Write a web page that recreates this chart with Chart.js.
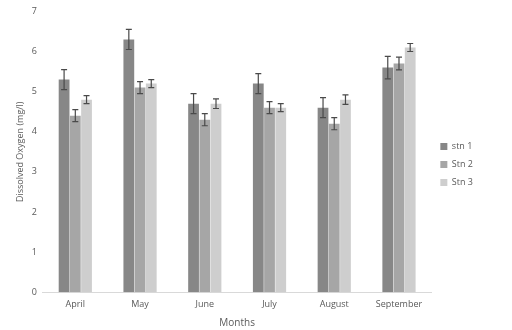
<!DOCTYPE html>
<html>
<head>
<meta charset="utf-8">
<script src="https://cdn.jsdelivr.net/npm/chart.js@4/dist/chart.umd.min.js"></script>
<style>
  html, body { margin: 0; padding: 0; background: #fff; }
  #wrap { width: 512px; height: 330px; }
</style>
</head>
<body>
<div id="wrap"><canvas id="myChart"></canvas></div>
<script>
var months = ["April", "May", "June", "July", "August", "September"];
var stn1 = [5.3, 6.3, 4.7, 5.2, 4.6, 5.6];
var stn2 = [4.4, 5.1, 4.3, 4.6, 4.2, 5.7];
var stn3 = [4.8, 5.2, 4.7, 4.6, 4.8, 6.1];
var err1 = [0.25, 0.25, 0.25, 0.25, 0.25, 0.28];
var err2 = [0.15, 0.15, 0.15, 0.15, 0.15, 0.16];
var err3 = [0.1, 0.1, 0.12, 0.1, 0.12, 0.1];

// draws the +/- error whiskers on top of each bar
var errorBars = {
    id: "errorBars",
    afterDatasetsDraw: function (chart) {
        var ctx = chart.ctx;
        var yScale = chart.scales.y;
        ctx.save();
        ctx.strokeStyle = "#4a4a4a";
        ctx.lineWidth = 1.2;
        chart.data.datasets.forEach(function (ds, i) {
            var meta = chart.getDatasetMeta(i);
            meta.data.forEach(function (bar, j) {
                var v = ds.data[j];
                var e = ds.errors[j];
                var x = bar.x;
                var top = yScale.getPixelForValue(v + e);
                var bot = yScale.getPixelForValue(v - e);
                ctx.beginPath();
                ctx.moveTo(x, top);
                ctx.lineTo(x, bot);
                ctx.moveTo(x - 3, top);
                ctx.lineTo(x + 3, top);
                ctx.moveTo(x - 3, bot);
                ctx.lineTo(x + 3, bot);
                ctx.stroke();
            });
        });
        ctx.restore();
    }
};

Chart.defaults.font.family = "'Open Sans', 'Liberation Sans', sans-serif";
Chart.defaults.font.size = 9;
Chart.defaults.color = "#595959";

var ctx = document.getElementById("myChart");

var chart = new Chart(ctx, {
    type: "bar",
    data: {
        labels: months,
        datasets: [
            { label: "stn 1", data: stn1, errors: err1, backgroundColor: "#878787" },
            { label: "Stn 2", data: stn2, errors: err2, backgroundColor: "#a6a6a6" },
            { label: "Stn 3", data: stn3, errors: err3, backgroundColor: "#cecece" }
        ]
    },
    options: {
        responsive: true,
        maintainAspectRatio: false,
        animation: false,
        layout: { padding: { left: 15, right: 29, top: 0, bottom: 1 } },
        datasets: {
            bar: { categoryPercentage: 0.52, barPercentage: 0.96 }
        },
        plugins: {
            legend: {
                position: "right",
                align: "center",
                labels: {
                    boxWidth: 7,
                    boxHeight: 7,
                    padding: 9,
                    font: { size: 9 }
                }
            },
            tooltip: { enabled: false }
        },
        scales: {
            x: {
                grid: { display: false, drawTicks: false },
                border: { display: true, color: "#d9d9d9" },
                ticks: { padding: 7 },
                title: { display: true, text: "Months", font: { size: 10 }, padding: { top: 0, bottom: 0 } }
            },
            y: {
                min: 0,
                max: 7,
                ticks: { stepSize: 1, padding: 6 },
                grid: { display: false, drawTicks: false },
                border: { display: false },
                title: { display: true, text: "Dissolved Oxygen (mg/l)", font: { size: 9 }, padding: { top: 0, bottom: 0 } }
            }
        }
    },
    plugins: [errorBars]
});
</script>
</body>
</html>
